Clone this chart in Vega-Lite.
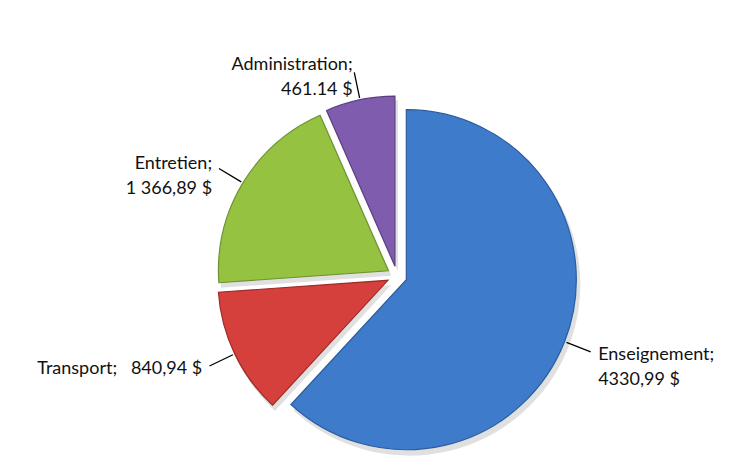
{
  "$schema": "https://vega.github.io/schema/vega-lite/v6.json",
  "width": 500,
  "height": 400,
  "autosize": {"type": "none"},
  "padding": {"left": 147, "top": 76, "right": 94, "bottom": 0},
  "background": "white",
  "view": {"stroke": null},
  "data": {
    "values": [
      {"category": "Enseignement", "amount": 4330.99, "label": "Enseignement;\n4330,99 $"},
      {"category": "Transport", "amount": 840.94, "label": "Transport;\u00a0\u00a0 840,94 $"},
      {"category": "Entretien", "amount": 1366.89, "label": "Entretien;\n1 366,89 $"},
      {"category": "Administration", "amount": 461.14, "label": "Administration;\n461.14 $"}
    ]
  },
  "transform": [
    {"window": [{"op": "sum", "field": "amount", "as": "cum"}], "frame": [null, 0]},
    {"joinaggregate": [{"op": "sum", "field": "amount", "as": "total"}]},
    {"calculate": "2*PI*(datum.cum-datum.amount)/datum.total", "as": "a0"},
    {"calculate": "2*PI*datum.cum/datum.total", "as": "a1"},
    {"calculate": "(datum.a0+datum.a1)/2", "as": "mid"}
  ],
  "layer": [
    {
      "mark": {
        "type": "arc",
        "radius": 171,
        "fill": "#000000",
        "fillOpacity": 0.12,
        "xOffset": {"expr": "10*sin(datum.mid) + 3"},
        "yOffset": {"expr": "-10*cos(datum.mid) + 5"}
      },
      "encoding": {
        "theta": {"field": "a0", "type": "quantitative", "scale": null},
        "theta2": {"field": "a1"}
      }
    },
    {
      "mark": {
        "type": "arc",
        "radius": 170,
        "strokeWidth": 1.2,
        "xOffset": {"expr": "10*sin(datum.mid)"},
        "yOffset": {"expr": "-10*cos(datum.mid)"}
      },
      "encoding": {
        "theta": {"field": "a0", "type": "quantitative", "scale": null},
        "theta2": {"field": "a1"},
        "color": {
          "field": "category",
          "type": "nominal",
          "legend": null,
          "scale": {
            "domain": ["Enseignement", "Transport", "Entretien", "Administration"],
            "range": ["#3E7CCB", "#D6403C", "#95C240", "#7F5CAE"]
          }
        },
        "stroke": {
          "field": "category",
          "type": "nominal",
          "legend": null,
          "scale": {
            "domain": ["Enseignement", "Transport", "Entretien", "Administration"],
            "range": ["#2B5C9E", "#9E2A27", "#6E9230", "#5B3F82"]
          }
        }
      }
    },
    {
      "mark": {
        "type": "arc",
        "radius": 198,
        "radius2": 172,
        "fill": null,
        "stroke": "black",
        "strokeWidth": 1.3,
        "xOffset": {"expr": "10*sin(datum.mid)"},
        "yOffset": {"expr": "-10*cos(datum.mid)"}
      },
      "encoding": {
        "theta": {"field": "mid", "type": "quantitative", "scale": null},
        "theta2": {"field": "mid"}
      }
    },
    {
      "mark": {
        "type": "text",
        "radius": 206,
        "font": "Lato",
        "fontSize": 18,
        "color": "#111111",
        "lineBreak": "\n",
        "lineHeight": 25,
        "baseline": "middle",
        "align": {"expr": "sin(datum.mid) > 0 ? 'left' : 'right'"},
        "xOffset": {"expr": "10*sin(datum.mid)"},
        "yOffset": {"expr": "-10*cos(datum.mid)"}
      },
      "encoding": {
        "theta": {"field": "mid", "type": "quantitative", "scale": null},
        "text": {"field": "label"}
      }
    }
  ]
}
